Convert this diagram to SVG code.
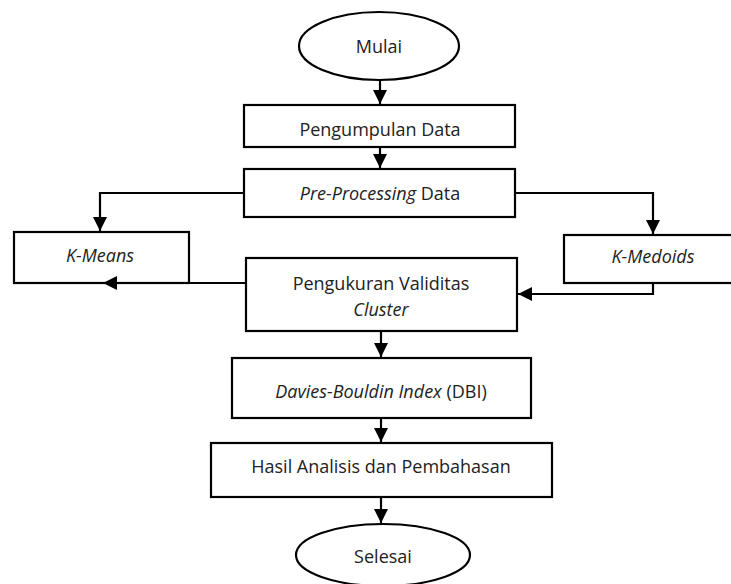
<svg xmlns="http://www.w3.org/2000/svg" width="731" height="584" viewBox="0 0 731 584">
<style>
.box{fill:#fff;stroke:#000;stroke-width:2.2}
.ln{fill:none;stroke:#000;stroke-width:2.2}
text{font-family:"Open Sans","Noto Sans","Liberation Sans",sans-serif;font-size:18px;fill:#222;text-anchor:middle}
.it{font-style:italic}
</style>
<defs>
<marker id="ah" markerUnits="userSpaceOnUse" markerWidth="14" markerHeight="14" viewBox="0 0 14 14" refX="14" refY="7" orient="auto">
<path d="M0,0 L14,7 L0,14 Z" fill="#000"/>
</marker>
</defs>
<g id="mulai">
<ellipse class="box" cx="379" cy="46" rx="80" ry="34"/>
<text x="379" y="53">Mulai</text>
</g>
<g id="pengumpulan">
<rect class="box" x="244" y="105" width="271" height="42"/>
<text x="380" y="136">Pengumpulan Data</text>
</g>
<g id="preprocessing">
<rect class="box" x="244" y="169" width="271" height="48"/>
<text x="380" y="200"><tspan class="it">Pre-Processing</tspan> Data</text>
</g>
<g id="kmeans">
<rect class="box" x="14" y="232" width="175" height="51"/>
<text x="100" y="262" class="it">K-Means</text>
</g>
<g id="kmedoids">
<rect class="box" x="564" y="235" width="180" height="48"/>
<text x="653" y="263" class="it">K-Medoids</text>
</g>
<g id="pengukuran">
<rect class="box" x="246" y="258" width="271" height="73"/>
<text x="381" y="290">Pengukuran Validitas</text>
<text x="381" y="316" class="it">Cluster</text>
</g>
<g id="dbi">
<rect class="box" x="232" y="358" width="299" height="60"/>
<text x="381" y="398"><tspan class="it">Davies-Bouldin Index</tspan> (DBI)</text>
</g>
<g id="hasil">
<rect class="box" x="211" y="443" width="341" height="54"/>
<text x="381" y="473">Hasil Analisis dan Pembahasan</text>
</g>
<g id="selesai">
<ellipse class="box" cx="383" cy="555" rx="87" ry="31"/>
<text x="383" y="563">Selesai</text>
</g>
<g id="connectors">
<path class="ln" d="M380,80 V104" marker-end="url(#ah)"/>
<path class="ln" d="M380,147 V168" marker-end="url(#ah)"/>
<path class="ln" d="M244,193 H100 V231" marker-end="url(#ah)"/>
<path class="ln" d="M515,193 H653 V234" marker-end="url(#ah)"/>
<path class="ln" d="M246,283 H103" marker-end="url(#ah)"/>
<path class="ln" d="M653,283 V294 H518" marker-end="url(#ah)"/>
<path class="ln" d="M381,331 V357" marker-end="url(#ah)"/>
<path class="ln" d="M381,418 V442" marker-end="url(#ah)"/>
<path class="ln" d="M381,497 V523" marker-end="url(#ah)"/>
</g>
</svg>
